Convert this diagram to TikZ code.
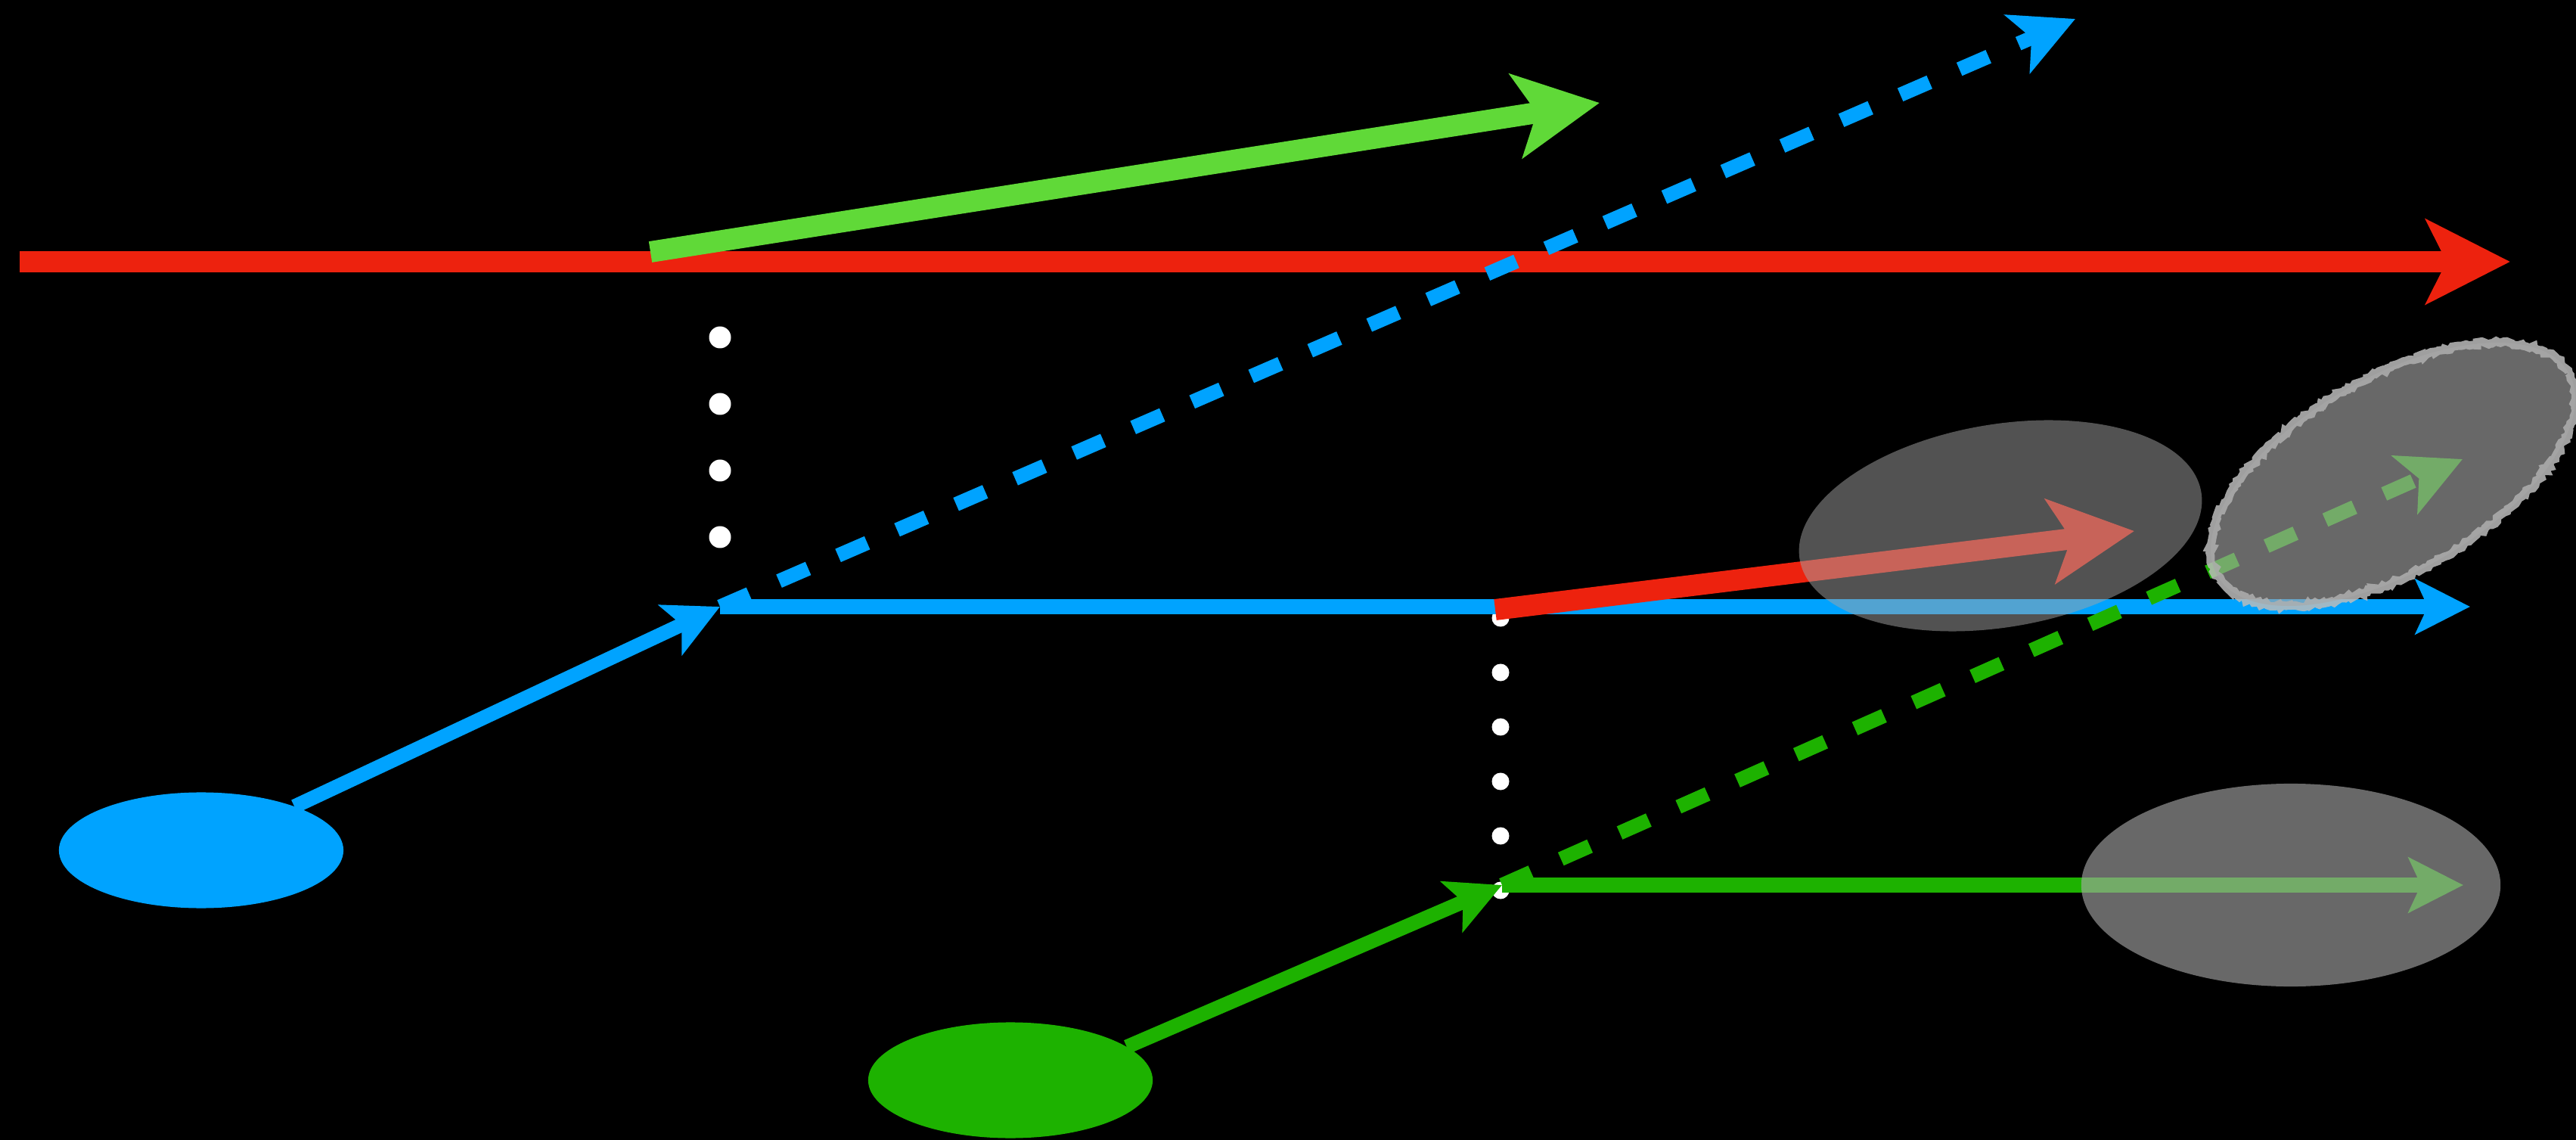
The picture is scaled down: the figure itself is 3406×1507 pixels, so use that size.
\documentclass[tikz,border=0pt]{standalone}
\usetikzlibrary{arrows.meta,shapes.geometric,decorations.pathmorphing}
\definecolor{redA}{RGB}{237,34,14}
\definecolor{lgreenA}{RGB}{96,217,56}
\definecolor{blueA}{RGB}{0,163,255}
\definecolor{dgreenA}{RGB}{29,178,0}
\definecolor{grayA}{RGB}{164,164,164}
\definecolor{grayB}{RGB}{168,168,168}
\definecolor{rimgray}{RGB}{188,188,188}
\begin{document}
\pgfmathsetseed{7}
\begin{tikzpicture}[x=0.01cm,y=-0.01cm,
  thickarrow/.style={line width=0.28cm,-{Stealth[length=1.11cm,width=1.11cm,inset=0.27cm]}},
  thinarrow/.style={line width=0.19cm,-{Stealth[length=0.72cm,width=0.72cm,inset=0.16cm]}},
  dasharrow/.style={line width=0.19cm,dash pattern=on 0.42cm off 0.43cm,-{Stealth[length=0.83cm,width=0.83cm,inset=0.2cm]}},
  blob/.style={ellipse,inner sep=0pt,outer sep=0pt,minimum width=3.76cm,minimum height=1.53cm},
  haze/.style={ellipse,inner sep=0pt,outer sep=0pt},
  rim/.style={draw=rimgray,draw opacity=0.85,line width=0.11cm,decorate,decoration={random steps,segment length=0.04cm,amplitude=0.025cm}}]
\useasboundingbox (0,0) rectangle (3406,1507);
\fill[black] (0,0) rectangle (3406,1507);
% anchor points
\coordinate (R0) at (26,346);
\coordinate (R1) at (3319,346);
\coordinate (LG0) at (860,333);
\coordinate (LG1) at (2115,136);
\coordinate (B) at (952,802);
\coordinate (BH) at (3266,802);
\coordinate (BD) at (2744,25);
\coordinate (R20) at (1977,806);
\coordinate (R21) at (2822,702);
\coordinate (G) at (1986,1170);
\coordinate (GH) at (3257,1170);
\coordinate (GD) at (3256,607);
% coloured ellipses
\node[blob,fill=blueA] (bell) at (266,1124) {};
\node[blob,fill=dgreenA] (gell) at (1336,1428) {};
% dotted guides
\foreach \yy in {446,534,622,710} \fill[white] (952,\yy) circle[radius=14.5];
\foreach \yy in {817,889,961,1033,1105,1177} \fill[white] (1984,\yy) circle[radius=11.5];
% top red and light green
\draw[redA,thickarrow] (R0) -- (R1);
\draw[lgreenA,thickarrow] (LG0) -- (LG1);
% blue
\draw[blueA,thinarrow] (B) -- (BH);
\draw[blueA,thinarrow] (bell) -- (B);
\draw[blueA,dasharrow] (B) -- (BD);
% lower red
\draw[redA,thickarrow] (R20) -- (R21);
% green
\draw[dgreenA,thinarrow] (G) -- (GH);
\draw[dgreenA,thinarrow] (gell.16) -- (G);
\draw[dgreenA,dasharrow] (G) -- (GD);
% grey overlays
\node[haze,fill=grayA,fill opacity=0.5,minimum width=5.38cm,minimum height=2.68cm,rotate=9.5] (e1) at (2645,695) {};
\node[haze,fill=grayB,fill opacity=0.62,minimum width=5.54cm,minimum height=2.68cm] (e2) at (3029,1170) {};
\coordinate (c3) at (3164,627);
\begin{scope}[shift={(c3)},rotate=30]
\draw[rim] (0,0) ellipse [x radius=268,y radius=128];
\end{scope}
\node[haze,fill=grayB,fill opacity=0.62,minimum width=5.36cm,minimum height=2.56cm,rotate=30] (e3) at (c3) {};
\end{tikzpicture}
\end{document}
